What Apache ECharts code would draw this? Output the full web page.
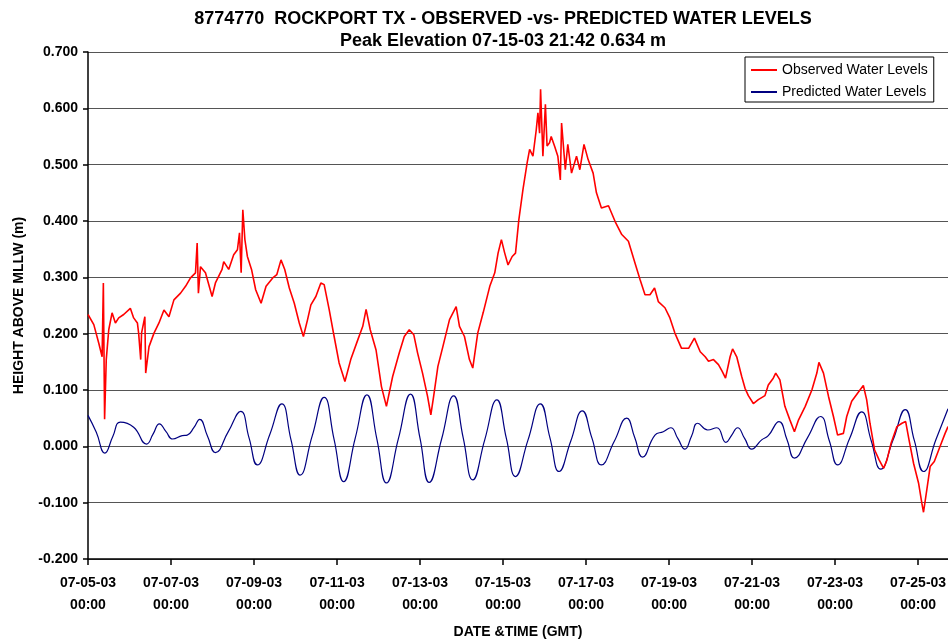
<!DOCTYPE html>
<html>
<head>
<meta charset="utf-8">
<script src="https://cdn.jsdelivr.net/npm/echarts@6/dist/echarts.min.js"></script>
<style>
html,body{margin:0;padding:0;background:#fff;}
#chart{width:948px;height:644px;}
</style>
</head>
<body>
<div id="chart"></div>
<script>
// Days since 07-05-03 00:00 (GMT)
const obsDays = [0.00,0.14,0.26,0.34,0.37,0.40,0.44,0.50,0.58,0.66,0.74,0.86,1.02,1.10,1.19,1.22,1.27,1.29,1.37,1.39,1.47,1.59,1.71,1.83,1.95,2.07,2.23,2.35,2.47,2.59,2.63,2.66,2.71,2.83,2.99,3.07,3.23,3.27,3.39,3.51,3.60,3.65,3.69,3.73,3.78,3.84,3.94,4.04,4.17,4.29,4.45,4.55,4.65,4.74,4.85,4.97,5.09,5.19,5.29,5.37,5.49,5.61,5.69,5.81,5.93,6.05,6.19,6.33,6.50,6.62,6.70,6.80,6.94,7.07,7.19,7.34,7.50,7.62,7.74,7.85,7.94,8.06,8.18,8.26,8.33,8.43,8.55,8.71,8.87,8.95,9.07,9.19,9.27,9.39,9.52,9.68,9.80,9.88,9.96,10.04,10.12,10.22,10.30,10.38,10.48,10.58,10.64,10.72,10.80,10.84,10.88,10.904,10.96,11.02,11.06,11.12,11.16,11.24,11.32,11.38,11.41,11.50,11.56,11.65,11.77,11.85,11.95,12.05,12.17,12.25,12.37,12.54,12.70,12.86,13.02,13.18,13.30,13.42,13.54,13.65,13.74,13.90,14.02,14.14,14.30,14.47,14.61,14.75,14.87,14.95,15.07,15.19,15.28,15.36,15.47,15.53,15.63,15.75,15.83,15.91,16.03,16.15,16.31,16.39,16.51,16.57,16.67,16.79,16.91,17.02,17.12,17.28,17.44,17.56,17.61,17.72,17.84,17.96,18.06,18.20,18.28,18.40,18.55,18.68,18.76,18.84,18.95,19.06,19.17,19.25,19.35,19.49,19.61,19.70,19.78,19.89,20.01,20.09,20.13,20.21,20.29,20.39,20.53,20.65,20.72];
const obsVals = [0.234,0.216,0.183,0.159,0.290,0.048,0.154,0.207,0.237,0.219,0.228,0.234,0.245,0.228,0.219,0.201,0.154,0.201,0.230,0.130,0.177,0.201,0.219,0.242,0.230,0.260,0.272,0.284,0.299,0.308,0.361,0.272,0.319,0.308,0.266,0.290,0.314,0.328,0.314,0.340,0.349,0.379,0.308,0.420,0.367,0.337,0.314,0.278,0.254,0.284,0.299,0.305,0.331,0.314,0.281,0.254,0.219,0.195,0.225,0.251,0.266,0.290,0.287,0.243,0.195,0.148,0.115,0.154,0.189,0.213,0.243,0.207,0.171,0.106,0.071,0.124,0.166,0.195,0.207,0.198,0.166,0.130,0.089,0.056,0.090,0.142,0.177,0.225,0.248,0.213,0.195,0.154,0.139,0.201,0.237,0.284,0.308,0.343,0.367,0.343,0.322,0.337,0.343,0.402,0.456,0.503,0.527,0.515,0.562,0.592,0.556,0.634,0.515,0.607,0.533,0.539,0.550,0.533,0.515,0.473,0.574,0.491,0.536,0.485,0.515,0.491,0.536,0.509,0.485,0.450,0.423,0.427,0.399,0.376,0.364,0.325,0.296,0.269,0.269,0.281,0.257,0.246,0.228,0.201,0.174,0.174,0.192,0.168,0.159,0.151,0.154,0.145,0.133,0.121,0.159,0.173,0.159,0.124,0.103,0.090,0.076,0.083,0.090,0.109,0.121,0.130,0.118,0.071,0.047,0.026,0.047,0.071,0.100,0.130,0.149,0.130,0.089,0.053,0.020,0.023,0.053,0.080,0.095,0.108,0.083,0.041,-0.006,-0.024,-0.039,-0.024,0.006,0.035,0.041,0.044,0.012,-0.030,-0.065,-0.101,-0.117,-0.077,-0.036,-0.027,0.000,0.023,0.035];

const predDays = [0.00,0.20,0.405,0.60,0.78,1.10,1.41,1.57,1.72,1.88,2.04,2.27,2.39,2.55,2.69,2.88,3.07,3.38,3.68,3.88,4.08,4.38,4.67,4.89,5.11,5.40,5.69,5.93,6.16,6.44,6.72,6.96,7.19,7.48,7.77,8.00,8.22,8.52,8.81,9.04,9.27,9.56,9.85,10.08,10.30,10.60,10.90,11.13,11.35,11.63,11.91,12.14,12.37,12.68,12.98,13.17,13.36,13.66,13.86,14.04,14.21,14.38,14.54,14.69,14.93,15.15,15.37,15.51,15.65,15.82,15.99,16.23,16.39,16.65,16.84,17.02,17.34,17.65,17.86,18.06,18.35,18.64,18.87,19.10,19.40,19.69,19.91,20.13,20.43,20.72];
const predVals = [0.055,0.025,-0.012,0.018,0.043,0.034,0.004,0.022,0.040,0.026,0.013,0.019,0.020,0.033,0.048,0.018,-0.011,0.026,0.062,0.015,-0.033,0.021,0.0755,0.012,-0.051,0.018,0.087,0.012,-0.0625,0.015,0.0915,0.013,-0.065,0.014,0.0927,0.014,-0.064,0.013,0.0897,0.015,-0.0595,0.012,0.0826,0.014,-0.0536,0.011,0.0755,0.015,-0.0447,0.009,0.063,0.015,-0.033,0.009,0.050,0.016,-0.019,0.020,0.026,0.033,0.014,-0.005,0.018,0.041,0.029,0.033,0.007,0.020,0.033,0.014,-0.005,0.0115,0.019,0.044,0.012,-0.021,0.016,0.053,0.010,-0.033,0.014,0.061,0.010,-0.0405,0.012,0.065,0.010,-0.0447,0.012,0.0666];

const dateLabels = ['07-05-03','07-07-03','07-09-03','07-11-03','07-13-03','07-15-03','07-17-03','07-19-03','07-21-03','07-23-03','07-25-03'];
const timeLabel = '00:00';

const FONT = 'Liberation Sans, Arial, sans-serif';
const obsData = obsDays.map((d, i) => [d, obsVals[i]]);
const predData = predDays.map((d, i) => [d, predVals[i]]);

const chart = echarts.init(document.getElementById('chart'), null, {renderer: 'canvas'});
chart.setOption({
  animation: false,
  backgroundColor: '#ffffff',
  title: [
    {text: '8774770  ROCKPORT TX - OBSERVED -vs- PREDICTED WATER LEVELS', left: 503, top: 10, textAlign: 'center', padding: 0,
     textStyle: {fontFamily: FONT, fontSize: 18, fontWeight: 'bold', color: '#000'}},
    {text: 'Peak Elevation 07-15-03 21:42 0.634 m', left: 503, top: 32, textAlign: 'center', padding: 0,
     textStyle: {fontFamily: FONT, fontSize: 18, fontWeight: 'bold', color: '#000'}}
  ],
  legend: {
    orient: 'vertical', left: 745, top: 57,
    padding: [6, 6, 3, 6], itemGap: 8, itemWidth: 26, itemHeight: 2,
    backgroundColor: '#fff', borderColor: '#000', borderWidth: 1, borderRadius: 0,
    textStyle: {fontFamily: FONT, fontSize: 14, color: '#000', lineHeight: 14},
    data: [
      {name: 'Observed Water Levels', icon: 'rect'},
      {name: 'Predicted Water Levels', icon: 'rect'}
    ]
  },
  grid: {left: 88, right: 0, top: 52, bottom: 85, containLabel: false, outerBoundsMode: 'none'},
  xAxis: {
    type: 'value', min: 0, max: 20.72, interval: 2,
    name: 'DATE &TIME (GMT)', nameLocation: 'middle', nameGap: 66,
    nameTextStyle: {fontFamily: FONT, fontSize: 14, fontWeight: 'bold', color: '#000'},
    axisLine: {show: true, onZero: false, lineStyle: {color: '#000', width: 1.5}},
    axisTick: {show: true, length: 6, lineStyle: {color: '#000', width: 1.5}},
    splitLine: {show: false},
    axisLabel: {
      showMaxLabel: false, margin: 13,
      fontFamily: FONT, fontSize: 14, fontWeight: 'bold', color: '#000', lineHeight: 22,
      formatter: v => { const i = Math.round(v / 2); return dateLabels[i] !== undefined ? dateLabels[i] + '\n' + timeLabel : ''; }
    }
  },
  yAxis: {
    type: 'value', min: -0.2, max: 0.7, interval: 0.1,
    name: 'HEIGHT ABOVE MLLW (m)', nameLocation: 'middle', nameGap: 62, nameRotate: 90,
    nameTextStyle: {fontFamily: FONT, fontSize: 14, fontWeight: 'bold', color: '#000'},
    axisLine: {show: true, onZero: false, lineStyle: {color: '#000', width: 1.5}},
    axisTick: {show: true, length: 5, lineStyle: {color: '#000', width: 1.5}},
    splitLine: {show: true, lineStyle: {color: '#555', width: 1.2}},
    axisLabel: {
      margin: 10, fontFamily: FONT, fontSize: 14, fontWeight: 'bold', color: '#000',
      formatter: v => v.toFixed(3)
    }
  },
  series: [
    {name: 'Observed Water Levels', type: 'line', data: obsData, symbol: 'none', showSymbol: false,
     color: '#ff0000', lineStyle: {color: '#ff0000', width: 1.6}, z: 3},
    {name: 'Predicted Water Levels', type: 'line', data: predData, symbol: 'none', showSymbol: false, smooth: 0.5,
     color: '#000080', lineStyle: {color: '#000080', width: 1.2}, z: 2}
  ]
});
</script>
</body>
</html>
